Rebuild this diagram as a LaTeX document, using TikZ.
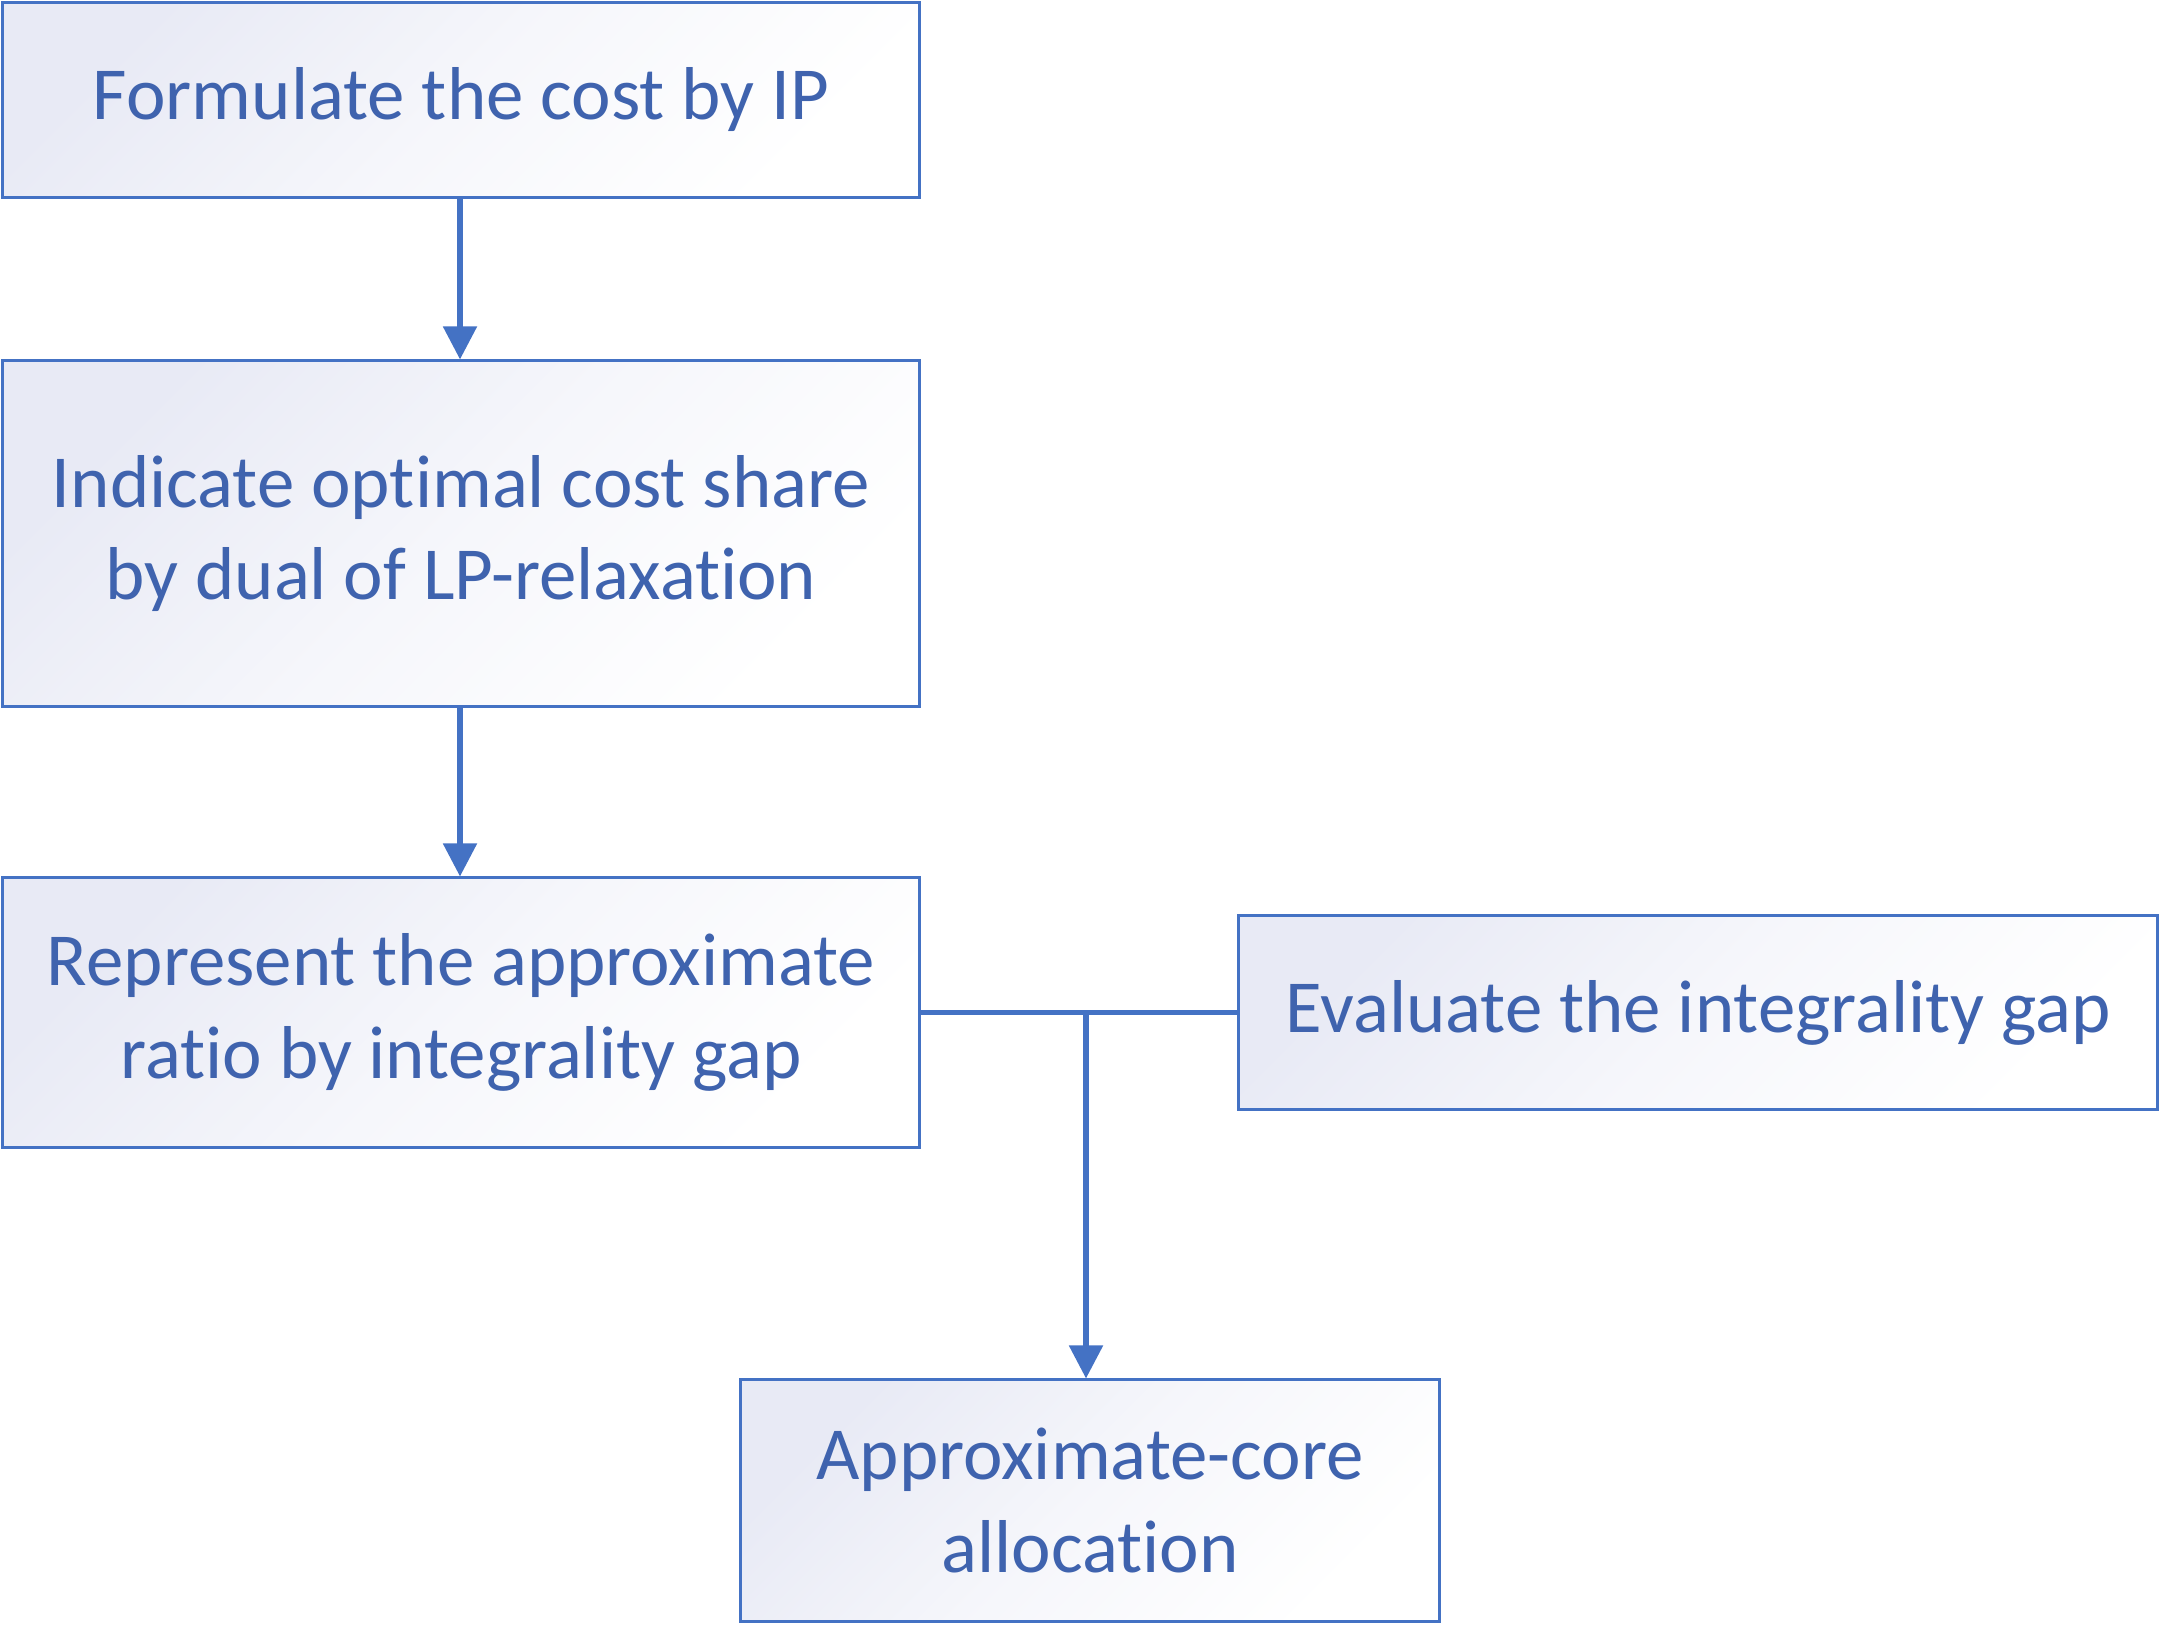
\documentclass[tikz,border=0pt]{standalone}
\usepackage{fontspec}
\setmainfont{Carlito}[Ligatures=NoCommon]
\usetikzlibrary{arrows.meta}
\definecolor{lineblue}{HTML}{4472C4}
\definecolor{textblue}{HTML}{3F63AE}
\definecolor{shade}{HTML}{E8EAF5}
\tikzset{
  box/.style={draw=lineblue, line width=0.85pt, top color=shade, bottom color=white, middle color=white!60!shade, shading angle=45,
    inner sep=0pt, align=center, text=textblue, font=\fontsize{21.3}{26.3}\selectfont},
  conn/.style={draw=lineblue, line width=1.5pt},
  arr/.style={conn, -{Triangle[width=0.33cm,length=0.33cm]}}
}
\begin{document}
\begin{tikzpicture}[x=0.01cm,y=-0.01cm]
\useasboundingbox (0,0) rectangle (2161,1629);
\node[box, minimum width=9.16cm, minimum height=1.94cm] (b1) at (461,100) {Formulate the cost by IP};
\node[box, minimum width=9.16cm, minimum height=3.45cm] (b2) at (461,533.5) {Indicate optimal cost share\\by dual of LP-relaxation};
\node[box, minimum width=9.16cm, minimum height=2.69cm] (b3) at (461,1012.5) {Represent the approximate\\ratio by integrality gap};
\node[box, minimum width=9.18cm, minimum height=1.93cm] (b4) at (1698,1012.5) {Evaluate the integrality gap};
\node[box, minimum width=6.98cm, minimum height=2.41cm] (b5) at (1090,1500.5) {Approximate-core\\allocation};
\draw[arr] (b1.south -| 460,0) -- (b2.north -| 460,0);
\draw[arr] (b2.south -| 460,0) -- (b3.north -| 460,0);
\coordinate (j) at (1086,1013);
\draw[conn, line cap=round] (b3.east) -- (b4.west);
\draw[arr] (j) -- (j |- b5.north);
\end{tikzpicture}
\end{document}
